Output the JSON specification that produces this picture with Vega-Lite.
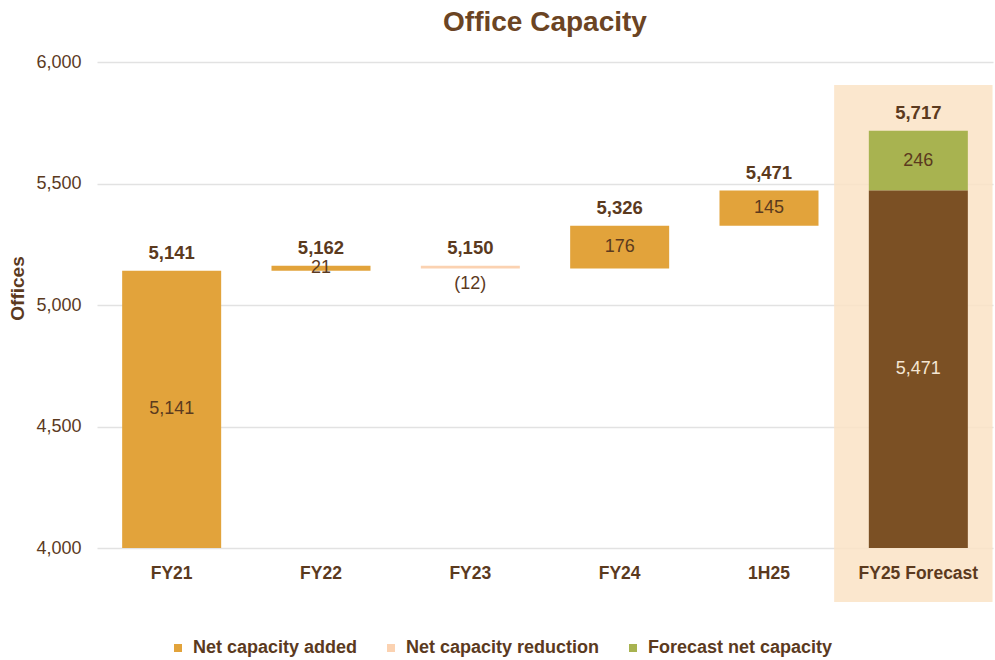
{
  "$schema": "https://vega.github.io/schema/vega-lite/v6.json",
  "width": 896,
  "height": 486,
  "autosize": {"type": "none"},
  "padding": {"left": 97, "top": 62, "right": 2, "bottom": 112},
  "background": "white",
  "config": {
    "font": "Liberation Sans",
    "view": {"stroke": null}
  },
  "title": {
    "text": "Office Capacity",
    "fontSize": 28,
    "fontWeight": "bold",
    "color": "#6b4423",
    "anchor": "middle",
    "frame": "group",
    "offset": 16
  },
  "data": {
    "values": [
      {"period": "FY21", "type": "Net capacity added", "start": 0, "end": 5141, "delta": 5141},
      {"period": "FY22", "type": "Net capacity added", "start": 5141, "end": 5162, "delta": 21},
      {"period": "FY23", "type": "Net capacity reduction", "start": 5162, "end": 5150, "delta": -12},
      {"period": "FY24", "type": "Net capacity added", "start": 5150, "end": 5326, "delta": 176},
      {"period": "1H25", "type": "Net capacity added", "start": 5326, "end": 5471, "delta": 145},
      {"period": "FY25 Forecast", "type": "Base", "start": 0, "end": 5471, "delta": 5471},
      {"period": "FY25 Forecast", "type": "Forecast net capacity", "start": 5471, "end": 5717, "delta": 246}
    ]
  },
  "encoding": {
    "x": {
      "field": "period",
      "type": "nominal",
      "sort": ["FY21", "FY22", "FY23", "FY24", "1H25", "FY25 Forecast"],
      "scale": {"paddingInner": 0.337, "paddingOuter": 0.1685},
      "axis": {
        "title": null,
        "labelAngle": 0,
        "labelFontSize": 17.5,
        "labelFontWeight": "bold",
        "labelColor": "#5b3a1e",
        "labelPadding": 16,
        "domain": false,
        "ticks": false,
        "zindex": 1
      }
    }
  },
  "layer": [
    {
      "transform": [{"filter": "datum.type === 'Forecast net capacity'"}],
      "mark": {"type": "bar", "color": "#fae3c6", "opacity": 0.85, "width": {"band": 1.6}, "xOffset": -5},
      "encoding": {
        "y": {"datum": 5905, "type": "quantitative"},
        "y2": {"datum": 3778}
      }
    },
    {
      "transform": [{"filter": "datum.type !== 'Base'"}],
      "mark": {"type": "bar", "clip": true},
      "encoding": {
        "y": {
          "field": "start",
          "type": "quantitative",
          "scale": {"domain": [4000, 6000], "nice": false, "zero": false},
          "axis": {
            "title": "Offices",
            "titleFontSize": 19,
            "titleFontWeight": "bold",
            "titleColor": "#5b3a1e",
            "titlePadding": 8,
            "titleY": 226,
            "values": [4000, 4500, 5000, 5500, 6000],
            "format": ",d",
            "labelFontSize": 18,
            "labelColor": "#5b3a1e",
            "labelPadding": 16,
            "domain": false,
            "ticks": false,
            "grid": true,
            "gridColor": "#e2e2e2",
            "gridWidth": 1.5
          }
        },
        "y2": {"field": "end"},
        "color": {
          "field": "type",
          "type": "nominal",
          "scale": {
            "domain": ["Net capacity added", "Net capacity reduction", "Forecast net capacity"],
            "range": ["#e2a33b", "#fbd2b1", "#a8b350"]
          },
          "legend": {
            "title": null,
            "orient": "none",
            "direction": "horizontal",
            "legendX": 72,
            "legendY": 577,
            "symbolType": "square",
            "symbolSize": 64,
            "symbolStrokeWidth": 0,
            "labelFontSize": 18,
            "labelFontWeight": "bold",
            "labelColor": "#5b3a1e",
            "labelLimit": 0,
            "columnPadding": 24,
            "labelOffset": 6
          }
        }
      }
    },
    {
      "transform": [{"filter": "datum.type === 'Base'"}],
      "mark": {"type": "bar", "clip": true, "color": "#7b5024"},
      "encoding": {
        "y": {"field": "start", "type": "quantitative"},
        "y2": {"field": "end"}
      }
    },
    {
      "transform": [
        {"filter": "datum.type !== 'Net capacity reduction'"},
        {"calculate": "(max(datum.start, 4000) + datum.end) / 2", "as": "mid"}
      ],
      "mark": {"type": "text", "fontSize": 18, "baseline": "middle"},
      "encoding": {
        "y": {"field": "mid", "type": "quantitative"},
        "text": {"field": "delta", "type": "quantitative", "format": "(,d"},
        "color": {
          "condition": {"test": "datum.type === 'Base'", "value": "#f5e6d3"},
          "value": "#5b3a1e"
        }
      }
    },
    {
      "transform": [{"filter": "datum.type === 'Net capacity reduction'"}],
      "mark": {"type": "text", "fontSize": 18, "baseline": "top", "dy": 6, "color": "#5b3a1e"},
      "encoding": {
        "y": {"field": "end", "type": "quantitative"},
        "text": {"field": "delta", "type": "quantitative", "format": "(,d"}
      }
    },
    {
      "transform": [
        {"filter": "datum.type !== 'Base'"},
        {"calculate": "max(datum.start, datum.end)", "as": "top"}
      ],
      "mark": {"type": "text", "fontSize": 18.5, "fontWeight": "bold", "baseline": "alphabetic", "dy": -12, "color": "#5b3a1e"},
      "encoding": {
        "y": {"field": "top", "type": "quantitative"},
        "text": {"field": "end", "type": "quantitative", "format": ",d"}
      }
    }
  ]
}
